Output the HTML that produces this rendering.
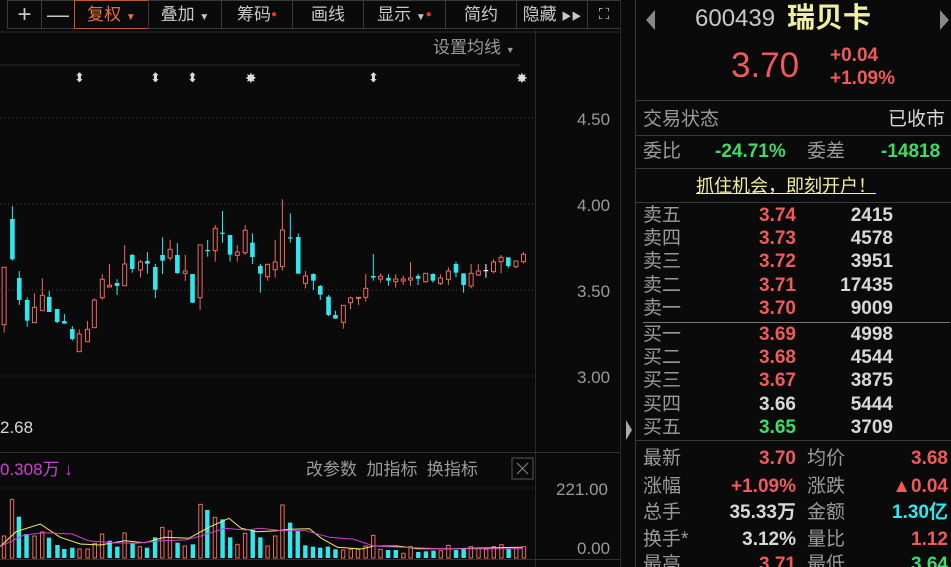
<!DOCTYPE html>
<html><head><meta charset="utf-8"><style>
html,body{margin:0;width:951px;height:567px;overflow:hidden;}
body{background:#0a0a0a;position:relative;font-family:"Liberation Sans","Noto Sans CJK SC",sans-serif;}
.a{position:absolute;white-space:nowrap;line-height:22px;}
.tb{position:absolute;top:0;height:29px;border:1px solid #3a3a3a;box-sizing:border-box;color:#c8c8c8;font-size:17px;line-height:27px;text-align:center;}
.r{color:#f05a5a}.g{color:#3ddc6a}.w{color:#d8d8d8}.gr{color:#9a9a9a}
.lbl{position:absolute;left:643px;font-size:19px;color:#9a9a9a;line-height:22px;white-space:nowrap;}
.num{position:absolute;font-size:19px;font-weight:bold;text-align:right;line-height:22px;white-space:nowrap;}
</style></head><body>
<div class="tb" style="left:7px;width:35px;font-size:24px">+</div>
<div class="tb" style="left:41px;width:34px;font-size:22px">—</div>
<div class="tb" style="left:74px;width:75px;color:#e8703a;border-color:#c05a2a">复权 <span style="font-size:10px">▼</span></div>
<div class="tb" style="left:148px;width:74px">叠加 <span style="font-size:10px">▼</span></div>
<div class="tb" style="left:221px;width:72px">筹码<span style="color:#f03030;font-size:10px;vertical-align:top">●</span></div>
<div class="tb" style="left:292px;width:72px">画线</div>
<div class="tb" style="left:363px;width:83px">显示 <span style="font-size:10px">▼</span><span style="color:#f03030;font-size:10px;vertical-align:top">●</span></div>
<div class="tb" style="left:445px;width:72px">简约</div>
<div class="tb" style="left:516px;width:72px">隐藏 <span style="font-size:10px">▶▶</span></div>
<div class="tb" style="left:587px;width:34px;font-size:15px">⛶</div>

<svg class="a" style="left:0;top:0;line-height:normal" width="951" height="567">
<line x1="0" y1="32" x2="620" y2="32" stroke="#2a2a2a"/>
<line x1="0" y1="65" x2="520" y2="65" stroke="#2a2a2a"/>
<line x1="535.5" y1="30" x2="535.5" y2="567" stroke="#2a2a2a"/>
<line x1="620.5" y1="0" x2="620.5" y2="567" stroke="#2a2a2a"/>
<line x1="635.5" y1="0" x2="635.5" y2="567" stroke="#3a3a3a"/>
<g stroke="#444" stroke-dasharray="1,3">
<line x1="0" y1="118" x2="535" y2="118"/><line x1="0" y1="204" x2="535" y2="204"/>
<line x1="0" y1="290" x2="535" y2="290"/><line x1="0" y1="376" x2="535" y2="376"/>
<line x1="0" y1="488" x2="535" y2="488"/>
</g>
<line x1="0" y1="452.5" x2="620" y2="452.5" stroke="#333"/>
<line x1="0" y1="559.5" x2="620" y2="559.5" stroke="#333"/>
<polygon points="626,420 632,430 626,440" fill="#aaa"/>
<polygon points="655,10 646,20 655,30" fill="#888"/>
<polygon points="940,10 949,20 940,30" fill="#888"/>
<g stroke="#3a3a3a"><line x1="635" y1="100.5" x2="951" y2="100.5"/><line x1="635" y1="135.5" x2="951" y2="135.5"/><line x1="635" y1="168.5" x2="951" y2="168.5"/><line x1="635" y1="202.5" x2="951" y2="202.5"/><line x1="635" y1="440.5" x2="951" y2="440.5"/></g>
<line x1="643" y1="322.5" x2="950" y2="322.5" stroke="#777"/>
<rect x="512" y="458" width="21" height="21" fill="none" stroke="#555"/>
<path d="M517 463 L528 474 M528 463 L517 474" stroke="#888"/>
<g id="cd"></g><g id="vol"></g>
<polyline id="my" fill="none" stroke="#f0f060" stroke-width="1"/>
<polyline id="mm" fill="none" stroke="#d040d0" stroke-width="1"/>
</svg>

<div class="a gr" style="left:433px;top:37px;font-size:17px">设置均线 <span style="font-size:9px">▼</span></div>
<div class="a" style="color:#ddd;font-size:13px;top:67px;left:74px">⬍</div>
<div class="a" style="color:#ddd;font-size:13px;top:67px;left:150px">⬍</div>
<div class="a" style="color:#ddd;font-size:13px;top:67px;left:187px">⬍</div>
<div class="a" style="color:#ddd;font-size:14px;top:67px;left:245px">✸</div>
<div class="a" style="color:#ddd;font-size:13px;top:67px;left:368px">⬍</div>
<div class="a" style="color:#ddd;font-size:14px;top:67px;left:516px">✸</div>
<div class="a gr" style="left:577px;top:109px;font-size:17px">4.50</div>
<div class="a gr" style="left:577px;top:195px;font-size:17px">4.00</div>
<div class="a gr" style="left:577px;top:281px;font-size:17px">3.50</div>
<div class="a gr" style="left:577px;top:367px;font-size:17px">3.00</div>
<div class="a w" style="left:0;top:417px;font-size:17px">2.68</div>
<div class="a" style="left:0;top:459px;font-size:17px;color:#d040d0">0.308万 ↓</div>
<div class="a gr" style="left:306px;top:459px;font-size:17px">改参数 &nbsp;加指标 &nbsp;换指标</div>
<div class="a gr" style="left:556px;top:479px;font-size:17px">221.00</div>
<div class="a gr" style="left:577px;top:538px;font-size:17px">0.00</div>

<div class="a" style="left:695px;top:8px;font-size:24px;color:#c8c8c8">600439</div>
<div class="a" style="left:787px;top:7px;font-size:28px;color:#f0f0a0;font-weight:bold">瑞贝卡</div>
<div class="a r" style="left:731px;top:55px;font-size:35px">3.70</div>
<div class="a r" style="left:830px;top:45px;font-size:19px;font-weight:bold">+0.04</div>
<div class="a r" style="left:830px;top:68px;font-size:19px;font-weight:bold">+1.09%</div>
<div class="lbl" style="top:109px">交易状态</div>
<div class="a w" style="left:888px;top:109px;font-size:19px">已收市</div>
<div class="lbl" style="top:141px">委比</div>
<div class="a g" style="left:715px;top:141px;font-size:19px;font-weight:bold">-24.71%</div>
<div class="a gr" style="left:807px;top:141px;font-size:19px">委差</div>
<div class="a g" style="left:881px;top:141px;font-size:19px;font-weight:bold">-14818</div>
<div class="a" style="left:696px;top:175px;font-size:18px;color:#f0f0a0;text-decoration:underline">抓住机会，即刻开户！</div>
<div id="ob"></div>
<div id="bt"></div>
<script>
const S='http://www.w3.org/2000/svg';
function el(t,a,p){const e=document.createElementNS(S,t);for(const k in a)e.setAttribute(k,a[k]);p.appendChild(e);return e;}
const R='#ec6a5e',C='#2ee8f0';
const c=[[12,'r',232,404,232,428],[36,'c',87,208,48,212],[56,'c',264,330,243,345],[79,'c',330,392,322,410],[100,'r',352,398,310,398],[123,'r',316,362,265,362],[143,'c',321,366,303,366],[166,'c',357,396,357,400],[187,'c',393,401,372,401],[210,'c',417,447,408,452],[230,'r',432,485,418,485],[254,'r',418,455,393,455],[274,'r',330,413,325,413],[297,'r',268,323,252,330],[318,'r',286,291,222,291],[340,'c',279,288,268,315],[362,'r',222,287,165,287],[384,'c',195,237,192,248],[408,'r',216,240,210,263],[428,'c',213,221,186,251],[451,'c',231,299,222,324],[472,'c',195,212,142,252],[494,'r',178,204,150,212],[515,'c',195,249,159,252],[538,'r',243,250,195,273],[559,'c',252,338,252,338],[581,'r',165,323,165,360],[603,'c',180,183,150,200],[625,'r',115,182,105,215],[646,'c',128,131,63,158],[668,'c',135,194,135,215],[689,'r',186,196,165,215],[712,'r',121,188,105,195],[733,'c',158,201,130,222],[756,'c',228,251,222,308],[777,'r',223,260,223,272],[799,'r',216,239,150,263],[820,'r',120,230,28,242],[843,'c',142,145,70,158],[866,'c',141,251,130,251],[887,'r',258,280,243,295],[910,'c',252,272,250,300],[930,'c',288,314,285,330],[954,'c',320,375,315,378],[974,'c',375,386,362,386],[997,'r',346,397,346,416],[1018,'r',324,338,320,357],[1041,'r',322,325,322,345],[1062,'r',295,322,252,335],[1084,'c',258,263,192,272],[1105,'r',259,267,250,278],[1128,'c',264,272,253,287],[1149,'r',267,275,253,293],[1171,'r',267,273,257,285],[1192,'r',264,270,216,288],[1214,'c',258,266,252,285],[1236,'r',250,275,250,278],[1257,'c',252,272,250,278],[1279,'r',264,280,253,285],[1302,'r',243,268,232,285],[1324,'c',222,248,215,262],[1346,'c',250,285,250,308],[1368,'r',250,288,222,295],[1389,'r',243,255,222,258],[1411,'w',240,242,222,263],[1433,'r',216,245,208,250],[1455,'r',202,215,195,250],[1476,'c',202,228,202,235],[1498,'r',213,230,213,235],[1520,'r',193,215,186,220]];
const cd=document.getElementById('cd');
const sx=540/1568;
c.forEach(d=>{const x=d[0]*sx,col=d[1]=='r'?R:d[1]=='c'?C:'#fff';
const bt=d[2]/3+190,bb=d[3]/3+190,wt=d[4]/3+190,wb=d[5]/3+190;
el('line',{x1:x,x2:x,y1:wt,y2:wb,stroke:col,'stroke-width':1},cd);
if(d[1]=='r')el('rect',{x:x-2,y:bt,width:4,height:Math.max(bb-bt,1),fill:'#0a0a0a',stroke:col,'stroke-width':1},cd);
else el('rect',{x:x-2.3,y:bt,width:4.6,height:Math.max(bb-bt,1.2),fill:col},cd);});
const v=[[10,'r',258],[30,'r',148],[47,'c',200],[66,'c',252],[86,'r',258],[105,'r',246],[122,'c',263],[143,'c',285],[160,'c',297],[180,'c',293],[198,'r',297],[218,'r',297],[236,'r',280],[254,'r',252],[273,'c',272],[292,'c',290],[310,'r',249],[330,'c',280],[348,'r',290],[366,'c',293],[386,'c',262],[404,'r',232],[423,'r',243],[442,'c',278],[460,'r',288],[480,'c',283],[499,'r',163],[516,'c',180],[535,'r',202],[554,'c',208],[573,'c',262],[591,'r',283],[610,'r',250],[629,'c',240],[648,'c',262],[666,'r',288],[685,'r',258],[703,'r',165],[722,'c',218],[741,'c',243],[760,'c',286],[779,'c',290],[797,'c',293],[816,'c',290],[835,'c',298],[854,'r',300],[873,'r',298],[891,'r',298],[910,'r',288],[929,'r',256],[947,'r',298],[966,'c',300],[985,'c',300],[1004,'r',310],[1022,'r',290],[1041,'c',306],[1060,'c',304],[1079,'c',302],[1097,'r',302],[1116,'r',286],[1135,'c',300],[1154,'c',296],[1172,'r',290],[1191,'r',295],[1210,'r',298],[1229,'r',290],[1248,'r',284],[1266,'c',296],[1285,'r',296],[1304,'r',290]];
const vg=document.getElementById('vol'),vx=630/1568;
v.forEach(d=>{const x=d[0]*vx,t=d[2]/3+450,b=558;
if(d[1]=='r')el('rect',{x:x-1.7,y:t,width:3.4,height:b-t,fill:'none',stroke:R,'stroke-width':1},vg);
else el('rect',{x:x-2.2,y:t,width:4.4,height:b-t,fill:C},vg);});
function pl(id,pts){document.getElementById(id).setAttribute('points',pts.map(p=>(p[0]*vx).toFixed(1)+','+(p[1]/3+450).toFixed(1)).join(' '));}
pl('my',[[0,290],[40,245],[100,222],[150,262],[200,282],[250,285],[310,272],[360,278],[410,262],[470,265],[520,232],[570,205],[600,235],[640,245],[690,242],[720,238],[770,236],[800,265],[840,292],[900,297],[930,288],[990,288],[1040,296],[1120,296],[1200,294],[1300,292]]);
pl('mm',[[0,290],[60,255],[110,248],[180,252],[220,272],[280,278],[340,280],[400,272],[460,270],[500,258],[560,235],[610,240],[650,235],[700,242],[760,242],[820,262],[880,268],[930,288],[1000,292],[1100,296],[1300,296]]);
const ob=[['卖五','3.74','2415','r'],['卖四','3.73','4578','r'],['卖三','3.72','3951','r'],['卖二','3.71','17435','r'],['卖一','3.70','9009','r'],['买一','3.69','4998','r'],['买二','3.68','4544','r'],['买三','3.67','3875','r'],['买四','3.66','5444','w'],['买五','3.65','3709','g']];
const ys=[205,228,251,275,298,324,347,370,394,417];let h='';
ob.forEach((o,i)=>{h+=`<div class="lbl" style="top:${ys[i]}px">${o[0]}</div><div class="num ${o[3]}" style="left:700px;width:96px;top:${ys[i]}px">${o[1]}</div><div class="num w" style="left:793px;width:100px;top:${ys[i]}px">${o[2]}</div>`;});
document.getElementById('ob').innerHTML=h;
const bt=[['最新','3.70','r','均价','3.68','r'],['涨幅','+1.09%','r','涨跌','▲0.04','r'],['总手','35.33万','w','金额','1.30亿','c'],['换手*','3.12%','w','量比','1.12','r'],['最高','3.71','r','最低','3.64','g']];
const by=[448,476,502,529,554];h='';
bt.forEach((o,i)=>{h+=`<div class="lbl" style="top:${by[i]}px">${o[0]}</div><div class="num ${o[2]}" style="left:700px;width:96px;top:${by[i]}px">${o[1]}</div><div class="lbl" style="left:807px;top:${by[i]}px">${o[3]}</div><div class="num ${o[5]}" style="left:848px;width:100px;top:${by[i]}px;${o[5]=='c'?'color:#2ee8f0':''}">${o[4]}</div>`;});
document.getElementById('bt').innerHTML=h;
</script>
</body></html>
